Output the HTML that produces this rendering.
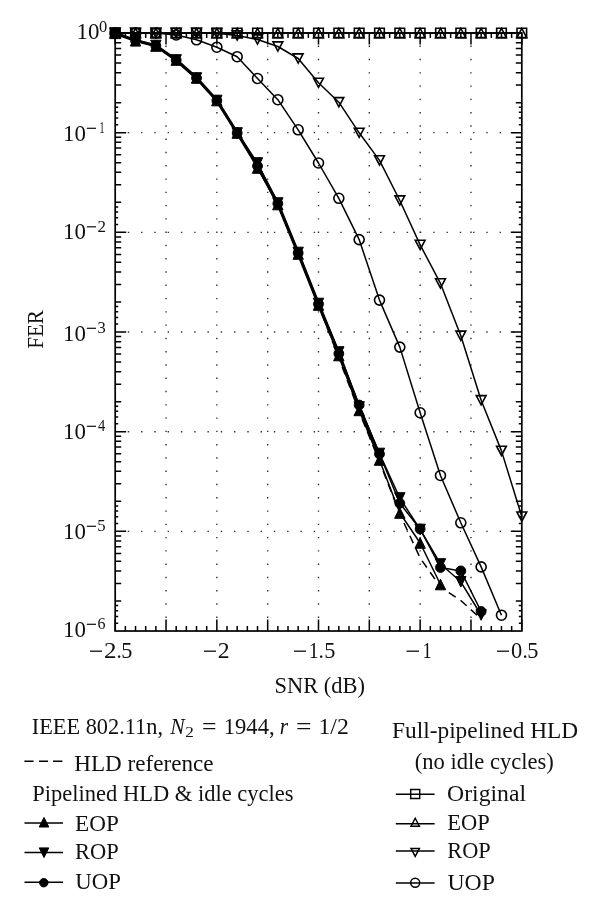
<!DOCTYPE html><html><head><meta charset="utf-8"><style>
html,body{margin:0;padding:0;background:#fff;overflow:hidden;}
svg{display:block;will-change:transform;}
text{font-family:"Liberation Serif",serif;fill:#111;}
</style></head><body>
<svg width="600" height="912" viewBox="0 0 600 912">
<rect width="600" height="912" fill="#fff"/>
<g stroke="#333" stroke-width="1.4" stroke-dasharray="1.4 11.88" stroke-dashoffset="0.7"><line x1="166.03" y1="33.00" x2="166.03" y2="631.02"/><line x1="216.85" y1="33.00" x2="216.85" y2="631.02"/><line x1="267.68" y1="33.00" x2="267.68" y2="631.02"/><line x1="318.50" y1="33.00" x2="318.50" y2="631.02"/><line x1="369.32" y1="33.00" x2="369.32" y2="631.02"/><line x1="420.15" y1="33.00" x2="420.15" y2="631.02"/><line x1="470.98" y1="33.00" x2="470.98" y2="631.02"/><line x1="115.20" y1="132.67" x2="521.80" y2="132.67"/><line x1="115.20" y1="232.34" x2="521.80" y2="232.34"/><line x1="115.20" y1="332.01" x2="521.80" y2="332.01"/><line x1="115.20" y1="431.68" x2="521.80" y2="431.68"/><line x1="115.20" y1="531.35" x2="521.80" y2="531.35"/></g>
<path d="M115.20 631.02v-11.5M115.20 33.00v11.5M125.37 631.02v-5M125.37 33.00v5M135.53 631.02v-5M135.53 33.00v5M145.69 631.02v-5M145.69 33.00v5M155.86 631.02v-5M155.86 33.00v5M166.03 631.02v-11.5M166.03 33.00v11.5M176.19 631.02v-5M176.19 33.00v5M186.36 631.02v-5M186.36 33.00v5M196.52 631.02v-5M196.52 33.00v5M206.69 631.02v-5M206.69 33.00v5M216.85 631.02v-11.5M216.85 33.00v11.5M227.02 631.02v-5M227.02 33.00v5M237.18 631.02v-5M237.18 33.00v5M247.35 631.02v-5M247.35 33.00v5M257.51 631.02v-5M257.51 33.00v5M267.68 631.02v-11.5M267.68 33.00v11.5M277.84 631.02v-5M277.84 33.00v5M288.01 631.02v-5M288.01 33.00v5M298.17 631.02v-5M298.17 33.00v5M308.34 631.02v-5M308.34 33.00v5M318.50 631.02v-11.5M318.50 33.00v11.5M328.67 631.02v-5M328.67 33.00v5M338.83 631.02v-5M338.83 33.00v5M349.00 631.02v-5M349.00 33.00v5M359.16 631.02v-5M359.16 33.00v5M369.32 631.02v-11.5M369.32 33.00v11.5M379.49 631.02v-5M379.49 33.00v5M389.66 631.02v-5M389.66 33.00v5M399.82 631.02v-5M399.82 33.00v5M409.99 631.02v-5M409.99 33.00v5M420.15 631.02v-11.5M420.15 33.00v11.5M430.31 631.02v-5M430.31 33.00v5M440.48 631.02v-5M440.48 33.00v5M450.65 631.02v-5M450.65 33.00v5M460.81 631.02v-5M460.81 33.00v5M470.98 631.02v-11.5M470.98 33.00v11.5M481.14 631.02v-5M481.14 33.00v5M491.31 631.02v-5M491.31 33.00v5M501.47 631.02v-5M501.47 33.00v5M511.64 631.02v-5M511.64 33.00v5M521.80 631.02v-11.5M521.80 33.00v11.5M115.20 124.78h3M521.80 124.78h-3M115.20 118.11h3M521.80 118.11h-3M115.20 112.33h3M521.80 112.33h-3M115.20 107.23h3M521.80 107.23h-3M115.20 102.67h6M521.80 102.67h-6M115.20 85.12h6M521.80 85.12h-6M115.20 72.66h6M521.80 72.66h-6M115.20 63.00h6M521.80 63.00h-6M115.20 55.11h6M521.80 55.11h-6M115.20 48.44h6M521.80 48.44h-6M115.20 42.66h6M521.80 42.66h-6M115.20 37.56h6M521.80 37.56h-6M115.20 33.00h11M521.80 33.00h-11M115.20 224.45h3M521.80 224.45h-3M115.20 217.78h3M521.80 217.78h-3M115.20 212.00h3M521.80 212.00h-3M115.20 206.90h3M521.80 206.90h-3M115.20 202.34h6M521.80 202.34h-6M115.20 184.79h6M521.80 184.79h-6M115.20 172.33h6M521.80 172.33h-6M115.20 162.67h6M521.80 162.67h-6M115.20 154.78h6M521.80 154.78h-6M115.20 148.11h6M521.80 148.11h-6M115.20 142.33h6M521.80 142.33h-6M115.20 137.23h6M521.80 137.23h-6M115.20 132.67h11M521.80 132.67h-11M115.20 324.12h3M521.80 324.12h-3M115.20 317.45h3M521.80 317.45h-3M115.20 311.67h3M521.80 311.67h-3M115.20 306.57h3M521.80 306.57h-3M115.20 302.01h6M521.80 302.01h-6M115.20 284.46h6M521.80 284.46h-6M115.20 272.00h6M521.80 272.00h-6M115.20 262.34h6M521.80 262.34h-6M115.20 254.45h6M521.80 254.45h-6M115.20 247.78h6M521.80 247.78h-6M115.20 242.00h6M521.80 242.00h-6M115.20 236.90h6M521.80 236.90h-6M115.20 232.34h11M521.80 232.34h-11M115.20 423.79h3M521.80 423.79h-3M115.20 417.12h3M521.80 417.12h-3M115.20 411.34h3M521.80 411.34h-3M115.20 406.24h3M521.80 406.24h-3M115.20 401.68h6M521.80 401.68h-6M115.20 384.13h6M521.80 384.13h-6M115.20 371.67h6M521.80 371.67h-6M115.20 362.01h6M521.80 362.01h-6M115.20 354.12h6M521.80 354.12h-6M115.20 347.45h6M521.80 347.45h-6M115.20 341.67h6M521.80 341.67h-6M115.20 336.57h6M521.80 336.57h-6M115.20 332.01h11M521.80 332.01h-11M115.20 523.46h3M521.80 523.46h-3M115.20 516.79h3M521.80 516.79h-3M115.20 511.01h3M521.80 511.01h-3M115.20 505.91h3M521.80 505.91h-3M115.20 501.35h6M521.80 501.35h-6M115.20 483.80h6M521.80 483.80h-6M115.20 471.34h6M521.80 471.34h-6M115.20 461.68h6M521.80 461.68h-6M115.20 453.79h6M521.80 453.79h-6M115.20 447.12h6M521.80 447.12h-6M115.20 441.34h6M521.80 441.34h-6M115.20 436.24h6M521.80 436.24h-6M115.20 431.68h11M521.80 431.68h-11M115.20 623.13h3M521.80 623.13h-3M115.20 616.46h3M521.80 616.46h-3M115.20 610.68h3M521.80 610.68h-3M115.20 605.58h3M521.80 605.58h-3M115.20 601.02h6M521.80 601.02h-6M115.20 583.47h6M521.80 583.47h-6M115.20 571.01h6M521.80 571.01h-6M115.20 561.35h6M521.80 561.35h-6M115.20 553.46h6M521.80 553.46h-6M115.20 546.79h6M521.80 546.79h-6M115.20 541.01h6M521.80 541.01h-6M115.20 535.91h6M521.80 535.91h-6M115.20 531.35h11M521.80 531.35h-11" stroke="#000" stroke-width="1.5" fill="none"/>
<rect x="115.20" y="33.00" width="406.60" height="598.02" fill="none" stroke="#000" stroke-width="1.7"/>
<polyline points="115.20,33.00 135.53,33.00 155.86,33.00 176.19,33.00 196.52,33.00 216.85,33.00 237.18,33.00 257.51,33.00 277.84,33.00 298.17,33.00 318.50,33.00 338.83,33.00 359.16,33.00 379.49,33.00 399.82,33.00 420.15,33.00 440.48,33.00 460.81,33.00 481.14,33.00 501.47,33.00 521.80,33.00" fill="none" stroke="#000" stroke-width="1.5" stroke-linejoin="round" />
<polyline points="115.20,33.00 135.53,33.00 155.86,33.00 176.19,33.00 196.52,33.00 216.85,33.20 237.18,35.50 257.51,39.50 277.84,46.50 298.17,58.50 318.50,82.80 338.83,102.20 359.16,132.80 379.49,160.40 399.82,200.50 420.15,244.90 440.48,283.40 460.81,335.70 481.14,400.20 501.47,450.85 521.80,516.60" fill="none" stroke="#000" stroke-width="1.5" stroke-linejoin="round" />
<polyline points="115.20,33.00 135.53,33.00 155.86,33.00 176.19,35.00 196.52,39.80 216.85,47.20 237.18,56.70 257.51,78.50 277.84,99.70 298.17,129.80 318.50,163.00 338.83,198.30 359.16,239.60 379.49,300.10 399.82,347.10 420.15,412.75 440.48,475.50 460.81,522.80 481.14,566.90 501.47,615.20" fill="none" stroke="#000" stroke-width="1.5" stroke-linejoin="round" />
<g fill="none" stroke="#000" stroke-width="1.6"><path d="M110.40 28.20h9.6v9.6h-9.6Z"/><path d="M130.73 28.20h9.6v9.6h-9.6Z"/><path d="M151.06 28.20h9.6v9.6h-9.6Z"/><path d="M171.39 28.20h9.6v9.6h-9.6Z"/><path d="M191.72 28.20h9.6v9.6h-9.6Z"/><path d="M212.05 28.20h9.6v9.6h-9.6Z"/><path d="M232.38 28.20h9.6v9.6h-9.6Z"/><path d="M252.71 28.20h9.6v9.6h-9.6Z"/><path d="M273.04 28.20h9.6v9.6h-9.6Z"/><path d="M293.37 28.20h9.6v9.6h-9.6Z"/><path d="M313.70 28.20h9.6v9.6h-9.6Z"/><path d="M334.03 28.20h9.6v9.6h-9.6Z"/><path d="M354.36 28.20h9.6v9.6h-9.6Z"/><path d="M374.69 28.20h9.6v9.6h-9.6Z"/><path d="M395.02 28.20h9.6v9.6h-9.6Z"/><path d="M415.35 28.20h9.6v9.6h-9.6Z"/><path d="M435.68 28.20h9.6v9.6h-9.6Z"/><path d="M456.01 28.20h9.6v9.6h-9.6Z"/><path d="M476.34 28.20h9.6v9.6h-9.6Z"/><path d="M496.67 28.20h9.6v9.6h-9.6Z"/><path d="M517.00 28.20h9.6v9.6h-9.6Z"/><path d="M110.30 37.60L120.10 37.60L115.20 28.40Z"/><path d="M130.63 37.60L140.43 37.60L135.53 28.40Z"/><path d="M150.96 37.60L160.76 37.60L155.86 28.40Z"/><path d="M171.29 37.60L181.09 37.60L176.19 28.40Z"/><path d="M191.62 37.60L201.42 37.60L196.52 28.40Z"/><path d="M211.95 37.60L221.75 37.60L216.85 28.40Z"/><path d="M232.28 37.60L242.08 37.60L237.18 28.40Z"/><path d="M252.61 37.60L262.41 37.60L257.51 28.40Z"/><path d="M272.94 37.60L282.74 37.60L277.84 28.40Z"/><path d="M293.27 37.60L303.07 37.60L298.17 28.40Z"/><path d="M313.60 37.60L323.40 37.60L318.50 28.40Z"/><path d="M333.93 37.60L343.73 37.60L338.83 28.40Z"/><path d="M354.26 37.60L364.06 37.60L359.16 28.40Z"/><path d="M374.59 37.60L384.39 37.60L379.49 28.40Z"/><path d="M394.92 37.60L404.72 37.60L399.82 28.40Z"/><path d="M415.25 37.60L425.05 37.60L420.15 28.40Z"/><path d="M435.58 37.60L445.38 37.60L440.48 28.40Z"/><path d="M455.91 37.60L465.71 37.60L460.81 28.40Z"/><path d="M476.24 37.60L486.04 37.60L481.14 28.40Z"/><path d="M496.57 37.60L506.37 37.60L501.47 28.40Z"/><path d="M516.90 37.60L526.70 37.60L521.80 28.40Z"/><path d="M110.30 28.40L120.10 28.40L115.20 37.60Z"/><path d="M130.63 28.40L140.43 28.40L135.53 37.60Z"/><path d="M150.96 28.40L160.76 28.40L155.86 37.60Z"/><path d="M171.29 28.40L181.09 28.40L176.19 37.60Z"/><path d="M191.62 28.40L201.42 28.40L196.52 37.60Z"/><path d="M211.95 28.60L221.75 28.60L216.85 37.80Z"/><path d="M232.28 30.90L242.08 30.90L237.18 40.10Z"/><path d="M252.61 34.90L262.41 34.90L257.51 44.10Z"/><path d="M272.94 41.90L282.74 41.90L277.84 51.10Z"/><path d="M293.27 53.90L303.07 53.90L298.17 63.10Z"/><path d="M313.60 78.20L323.40 78.20L318.50 87.40Z"/><path d="M333.93 97.60L343.73 97.60L338.83 106.80Z"/><path d="M354.26 128.20L364.06 128.20L359.16 137.40Z"/><path d="M374.59 155.80L384.39 155.80L379.49 165.00Z"/><path d="M394.92 195.90L404.72 195.90L399.82 205.10Z"/><path d="M415.25 240.30L425.05 240.30L420.15 249.50Z"/><path d="M435.58 278.80L445.38 278.80L440.48 288.00Z"/><path d="M455.91 331.10L465.71 331.10L460.81 340.30Z"/><path d="M476.24 395.60L486.04 395.60L481.14 404.80Z"/><path d="M496.57 446.25L506.37 446.25L501.47 455.45Z"/><path d="M516.90 512.00L526.70 512.00L521.80 521.20Z"/><path d="M110.20 33.00a5.0 5.0 0 1 0 10.0 0a5.0 5.0 0 1 0 -10.0 0Z"/><path d="M130.53 33.00a5.0 5.0 0 1 0 10.0 0a5.0 5.0 0 1 0 -10.0 0Z"/><path d="M150.86 33.00a5.0 5.0 0 1 0 10.0 0a5.0 5.0 0 1 0 -10.0 0Z"/><path d="M171.19 35.00a5.0 5.0 0 1 0 10.0 0a5.0 5.0 0 1 0 -10.0 0Z"/><path d="M191.52 39.80a5.0 5.0 0 1 0 10.0 0a5.0 5.0 0 1 0 -10.0 0Z"/><path d="M211.85 47.20a5.0 5.0 0 1 0 10.0 0a5.0 5.0 0 1 0 -10.0 0Z"/><path d="M232.18 56.70a5.0 5.0 0 1 0 10.0 0a5.0 5.0 0 1 0 -10.0 0Z"/><path d="M252.51 78.50a5.0 5.0 0 1 0 10.0 0a5.0 5.0 0 1 0 -10.0 0Z"/><path d="M272.84 99.70a5.0 5.0 0 1 0 10.0 0a5.0 5.0 0 1 0 -10.0 0Z"/><path d="M293.17 129.80a5.0 5.0 0 1 0 10.0 0a5.0 5.0 0 1 0 -10.0 0Z"/><path d="M313.50 163.00a5.0 5.0 0 1 0 10.0 0a5.0 5.0 0 1 0 -10.0 0Z"/><path d="M333.83 198.30a5.0 5.0 0 1 0 10.0 0a5.0 5.0 0 1 0 -10.0 0Z"/><path d="M354.16 239.60a5.0 5.0 0 1 0 10.0 0a5.0 5.0 0 1 0 -10.0 0Z"/><path d="M374.49 300.10a5.0 5.0 0 1 0 10.0 0a5.0 5.0 0 1 0 -10.0 0Z"/><path d="M394.82 347.10a5.0 5.0 0 1 0 10.0 0a5.0 5.0 0 1 0 -10.0 0Z"/><path d="M415.15 412.75a5.0 5.0 0 1 0 10.0 0a5.0 5.0 0 1 0 -10.0 0Z"/><path d="M435.48 475.50a5.0 5.0 0 1 0 10.0 0a5.0 5.0 0 1 0 -10.0 0Z"/><path d="M455.81 522.80a5.0 5.0 0 1 0 10.0 0a5.0 5.0 0 1 0 -10.0 0Z"/><path d="M476.14 566.90a5.0 5.0 0 1 0 10.0 0a5.0 5.0 0 1 0 -10.0 0Z"/><path d="M496.47 615.20a5.0 5.0 0 1 0 10.0 0a5.0 5.0 0 1 0 -10.0 0Z"/></g>
<polyline points="115.20,33.30 135.53,40.43 155.86,45.77 176.19,60.00 196.52,78.00 216.85,100.50 237.18,133.00 257.51,165.67 277.84,203.70 298.17,253.17 318.50,304.17 338.83,353.70 359.16,407.47 379.49,455.83" fill="none" stroke="#000" stroke-width="3.2" stroke-linejoin="round" />
<polyline points="115.20,33.30 135.53,40.50 155.86,46.00 176.19,60.00 196.52,78.00 216.85,100.50 237.18,133.00 257.51,167.00 277.84,204.50 298.17,254.00 318.50,305.00 338.83,358.00 359.16,411.70 379.49,461.70 399.82,514.00 420.15,558.00 440.48,587.00 460.81,600.50 481.14,619.00" fill="none" stroke="#000" stroke-width="1.5" stroke-linejoin="round" stroke-dasharray="8.2 5.8"/>
<polyline points="115.20,33.30 135.53,40.80 155.86,46.00 176.19,60.00 196.52,78.00 216.85,100.50 237.18,133.00 257.51,168.00 277.84,204.50 298.17,254.00 318.50,305.00 338.83,355.50 359.16,410.40 379.49,460.00 399.82,513.00 420.15,543.00 440.48,584.50" fill="none" stroke="#000" stroke-width="1.5" stroke-linejoin="round" />
<polyline points="115.20,33.30 135.53,40.00 155.86,45.50 176.19,60.00 196.52,78.00 216.85,100.50 237.18,133.00 257.51,163.00 277.84,203.00 298.17,252.50 318.50,303.50 338.83,352.00 359.16,407.00 379.49,453.50 399.82,498.00 420.15,529.50 440.48,564.00 460.81,581.80 481.14,615.00" fill="none" stroke="#000" stroke-width="1.5" stroke-linejoin="round" />
<polyline points="115.20,33.30 135.53,40.50 155.86,45.80 176.19,60.00 196.52,78.00 216.85,100.50 237.18,133.00 257.51,166.00 277.84,203.60 298.17,253.00 318.50,304.00 338.83,353.60 359.16,405.00 379.49,454.00 399.82,503.30 420.15,529.00 440.48,567.50 460.81,570.90 481.14,611.50" fill="none" stroke="#000" stroke-width="1.5" stroke-linejoin="round" />
<g fill="#000" stroke="#000" stroke-width="1.0"><path d="M110.00 38.60L120.40 38.60L115.20 28.00Z"/><path d="M130.33 46.10L140.73 46.10L135.53 35.50Z"/><path d="M150.66 51.30L161.06 51.30L155.86 40.70Z"/><path d="M170.99 65.30L181.39 65.30L176.19 54.70Z"/><path d="M191.32 83.30L201.72 83.30L196.52 72.70Z"/><path d="M211.65 105.80L222.05 105.80L216.85 95.20Z"/><path d="M231.98 138.30L242.38 138.30L237.18 127.70Z"/><path d="M252.31 173.30L262.71 173.30L257.51 162.70Z"/><path d="M272.64 209.80L283.04 209.80L277.84 199.20Z"/><path d="M292.97 259.30L303.37 259.30L298.17 248.70Z"/><path d="M313.30 310.30L323.70 310.30L318.50 299.70Z"/><path d="M333.63 360.80L344.03 360.80L338.83 350.20Z"/><path d="M353.96 415.70L364.36 415.70L359.16 405.10Z"/><path d="M374.29 465.30L384.69 465.30L379.49 454.70Z"/><path d="M394.62 518.30L405.02 518.30L399.82 507.70Z"/><path d="M414.95 548.30L425.35 548.30L420.15 537.70Z"/><path d="M435.28 589.80L445.68 589.80L440.48 579.20Z"/><path d="M110.00 28.00L120.40 28.00L115.20 38.60Z"/><path d="M130.33 34.70L140.73 34.70L135.53 45.30Z"/><path d="M150.66 40.20L161.06 40.20L155.86 50.80Z"/><path d="M170.99 54.70L181.39 54.70L176.19 65.30Z"/><path d="M191.32 72.70L201.72 72.70L196.52 83.30Z"/><path d="M211.65 95.20L222.05 95.20L216.85 105.80Z"/><path d="M231.98 127.70L242.38 127.70L237.18 138.30Z"/><path d="M252.31 157.70L262.71 157.70L257.51 168.30Z"/><path d="M272.64 197.70L283.04 197.70L277.84 208.30Z"/><path d="M292.97 247.20L303.37 247.20L298.17 257.80Z"/><path d="M313.30 298.20L323.70 298.20L318.50 308.80Z"/><path d="M333.63 346.70L344.03 346.70L338.83 357.30Z"/><path d="M353.96 401.70L364.36 401.70L359.16 412.30Z"/><path d="M374.29 448.20L384.69 448.20L379.49 458.80Z"/><path d="M394.62 492.70L405.02 492.70L399.82 503.30Z"/><path d="M414.95 524.20L425.35 524.20L420.15 534.80Z"/><path d="M435.28 558.70L445.68 558.70L440.48 569.30Z"/><path d="M455.61 576.50L466.01 576.50L460.81 587.10Z"/><path d="M475.94 609.70L486.34 609.70L481.14 620.30Z"/><path d="M110.30 33.30a4.9 4.9 0 1 0 9.8 0a4.9 4.9 0 1 0 -9.8 0Z"/><path d="M130.63 40.50a4.9 4.9 0 1 0 9.8 0a4.9 4.9 0 1 0 -9.8 0Z"/><path d="M150.96 45.80a4.9 4.9 0 1 0 9.8 0a4.9 4.9 0 1 0 -9.8 0Z"/><path d="M171.29 60.00a4.9 4.9 0 1 0 9.8 0a4.9 4.9 0 1 0 -9.8 0Z"/><path d="M191.62 78.00a4.9 4.9 0 1 0 9.8 0a4.9 4.9 0 1 0 -9.8 0Z"/><path d="M211.95 100.50a4.9 4.9 0 1 0 9.8 0a4.9 4.9 0 1 0 -9.8 0Z"/><path d="M232.28 133.00a4.9 4.9 0 1 0 9.8 0a4.9 4.9 0 1 0 -9.8 0Z"/><path d="M252.61 166.00a4.9 4.9 0 1 0 9.8 0a4.9 4.9 0 1 0 -9.8 0Z"/><path d="M272.94 203.60a4.9 4.9 0 1 0 9.8 0a4.9 4.9 0 1 0 -9.8 0Z"/><path d="M293.27 253.00a4.9 4.9 0 1 0 9.8 0a4.9 4.9 0 1 0 -9.8 0Z"/><path d="M313.60 304.00a4.9 4.9 0 1 0 9.8 0a4.9 4.9 0 1 0 -9.8 0Z"/><path d="M333.93 353.60a4.9 4.9 0 1 0 9.8 0a4.9 4.9 0 1 0 -9.8 0Z"/><path d="M354.26 405.00a4.9 4.9 0 1 0 9.8 0a4.9 4.9 0 1 0 -9.8 0Z"/><path d="M374.59 454.00a4.9 4.9 0 1 0 9.8 0a4.9 4.9 0 1 0 -9.8 0Z"/><path d="M394.92 503.30a4.9 4.9 0 1 0 9.8 0a4.9 4.9 0 1 0 -9.8 0Z"/><path d="M415.25 529.00a4.9 4.9 0 1 0 9.8 0a4.9 4.9 0 1 0 -9.8 0Z"/><path d="M435.58 567.50a4.9 4.9 0 1 0 9.8 0a4.9 4.9 0 1 0 -9.8 0Z"/><path d="M455.91 570.90a4.9 4.9 0 1 0 9.8 0a4.9 4.9 0 1 0 -9.8 0Z"/><path d="M476.24 611.50a4.9 4.9 0 1 0 9.8 0a4.9 4.9 0 1 0 -9.8 0Z"/></g>
<text transform="translate(76.49 39.20) scale(1.0050 1)" font-size="22.8">10</text>
<text transform="translate(98.88 31.60) scale(1.0294 1)" font-size="16">0</text>
<text transform="translate(62.99 140.70) scale(1.0050 1)" font-size="22.8">10</text>
<rect x="86.80" y="127.70" width="9.20" height="1.2" fill="#111"/>
<text transform="translate(99.62 133.10) scale(0.6250 1)" font-size="16">1</text>
<text transform="translate(62.99 239.20) scale(1.0050 1)" font-size="22.8">10</text>
<rect x="86.80" y="226.20" width="9.20" height="1.2" fill="#111"/>
<text transform="translate(97.46 231.60) scale(1.0625 1)" font-size="16">2</text>
<text transform="translate(62.99 340.70) scale(1.0050 1)" font-size="22.8">10</text>
<rect x="86.80" y="327.70" width="9.20" height="1.2" fill="#111"/>
<text transform="translate(97.38 333.10) scale(1.0303 1)" font-size="16">3</text>
<text transform="translate(62.99 438.70) scale(1.0050 1)" font-size="22.8">10</text>
<rect x="86.80" y="425.70" width="9.20" height="1.2" fill="#111"/>
<text transform="translate(97.93 431.10) scale(0.9067 1)" font-size="16">4</text>
<text transform="translate(62.99 538.70) scale(1.0050 1)" font-size="22.8">10</text>
<rect x="86.80" y="525.70" width="9.20" height="1.2" fill="#111"/>
<text transform="translate(97.26 531.10) scale(1.0462 1)" font-size="16">5</text>
<text transform="translate(62.99 636.70) scale(1.0050 1)" font-size="22.8">10</text>
<rect x="86.80" y="623.70" width="9.20" height="1.2" fill="#111"/>
<text transform="translate(97.50 629.10) scale(1.0000 1)" font-size="16">6</text>
<rect x="90.00" y="650.55" width="12.00" height="1.3" fill="#111"/>
<text transform="translate(103.91 657.60) scale(1.0870 1)" font-size="23">2</text>
<text transform="translate(116.61 657.60) scale(0.9259 1)" font-size="23">.</text>
<text transform="translate(121.24 657.60) scale(0.9677 1)" font-size="23">5</text>
<rect x="203.90" y="650.55" width="12.10" height="1.3" fill="#111"/>
<text transform="translate(217.87 657.60) scale(1.0326 1)" font-size="23">2</text>
<rect x="294.00" y="650.55" width="12.00" height="1.3" fill="#111"/>
<text transform="translate(308.77 657.60) scale(0.8642 1)" font-size="23">1</text>
<text transform="translate(318.61 657.60) scale(0.9259 1)" font-size="23">.</text>
<text transform="translate(324.24 657.60) scale(0.9677 1)" font-size="23">5</text>
<rect x="406.50" y="650.55" width="12.50" height="1.3" fill="#111"/>
<text transform="translate(422.40 657.60) scale(0.8025 1)" font-size="23">1</text>
<rect x="497.00" y="650.55" width="12.00" height="1.3" fill="#111"/>
<text transform="translate(511.12 657.60) scale(0.9794 1)" font-size="23">0</text>
<text transform="translate(522.61 657.60) scale(0.9259 1)" font-size="23">.</text>
<text transform="translate(527.24 657.60) scale(0.9677 1)" font-size="23">5</text>
<text transform="translate(274.53 693.00) scale(0.9767 1)" font-size="23">SNR (dB)</text>
<g transform="translate(42.6 348.2) rotate(-90)">
<text transform="translate(-0.64 0) scale(0.9179 1)" font-size="23">FER</text></g>
<text transform="translate(31.72 733.70) scale(0.9714 1)" font-size="23">IEEE 802.11n,</text>
<text transform="translate(170.19 733.70) scale(0.9458 1)" font-size="23" font-style="italic">N</text>
<text transform="translate(185.29 736.70) scale(1.1864 1)" font-size="14.5">2</text>
<text transform="translate(201.97 733.70) scale(1.1215 1)" font-size="23">=</text>
<text transform="translate(223.73 733.70) scale(0.9834 1)" font-size="23">1944,</text>
<text transform="translate(279.87 733.70) scale(0.9259 1)" font-size="23" font-style="italic">r</text>
<text transform="translate(295.88 733.70) scale(1.1963 1)" font-size="23">=</text>
<text transform="translate(318.43 733.70) scale(1.0345 1)" font-size="23">1/2</text>
<path d="M24.4 761.3h9.2M39 761.3h9M53 761.3h9.4" stroke="#000" stroke-width="1.4"/>
<text transform="translate(74.30 770.70) scale(1.0051 1)" font-size="23">HLD reference</text>
<text transform="translate(32.32 800.80) scale(0.9785 1)" font-size="23">Pipelined HLD &amp; idle cycles</text>
<path d="M24.5 822.9H63" stroke="#000" stroke-width="1.5"/>
<path d="M39.20 827.00L48.80 827.00L44.00 817.40Z" fill="#000" stroke="#000" stroke-width="1"/>
<text transform="translate(75.09 831.00) scale(1.0072 1)" font-size="23">EOP</text>
<path d="M24.5 852.4H63" stroke="#000" stroke-width="1.5"/>
<path d="M39.20 847.90L48.80 847.90L44.00 857.50Z" fill="#000" stroke="#000" stroke-width="1"/>
<text transform="translate(75.12 859.00) scale(0.9769 1)" font-size="23">ROP</text>
<path d="M24.5 882.2H63" stroke="#000" stroke-width="1.5"/>
<path d="M39.60 882.70a4.2 4.2 0 1 0 8.4 0a4.2 4.2 0 1 0 -8.4 0Z" fill="#000" stroke="#000" stroke-width="1"/>
<text transform="translate(75.30 889.00) scale(0.9910 1)" font-size="23">UOP</text>
<text transform="translate(392.09 737.50) scale(1.0154 1)" font-size="23">Full-pipelined HLD</text>
<text transform="translate(414.82 768.80) scale(0.9814 1)" font-size="23">(no idle cycles)</text>
<path d="M395.8 794.2H434.6" stroke="#000" stroke-width="1.5"/>
<path d="M410.70 789.50h9.0v9.0h-9.0Z" fill="none" stroke="#000" stroke-width="1.45"/>
<text transform="translate(447.07 801.00) scale(1.0305 1)" font-size="23">Original</text>
<path d="M395.8 823.75H434.6" stroke="#000" stroke-width="1.5"/>
<path d="M411.00 826.25L419.40 826.25L415.20 818.25Z" fill="none" stroke="#000" stroke-width="1.45"/>
<text transform="translate(447.32 829.60) scale(0.9785 1)" font-size="23">EOP</text>
<path d="M395.8 850.9H434.6" stroke="#000" stroke-width="1.5"/>
<path d="M411.00 848.40L419.40 848.40L415.20 856.40Z" fill="none" stroke="#000" stroke-width="1.45"/>
<text transform="translate(447.32 858.40) scale(0.9722 1)" font-size="23">ROP</text>
<path d="M395.8 883H434.6" stroke="#000" stroke-width="1.5"/>
<path d="M410.70 882.80a4.5 4.5 0 1 0 9.0 0a4.5 4.5 0 1 0 -9.0 0Z" fill="none" stroke="#000" stroke-width="1.45"/>
<text transform="translate(447.48 889.60) scale(1.0314 1)" font-size="23">UOP</text>
</svg></body></html>
